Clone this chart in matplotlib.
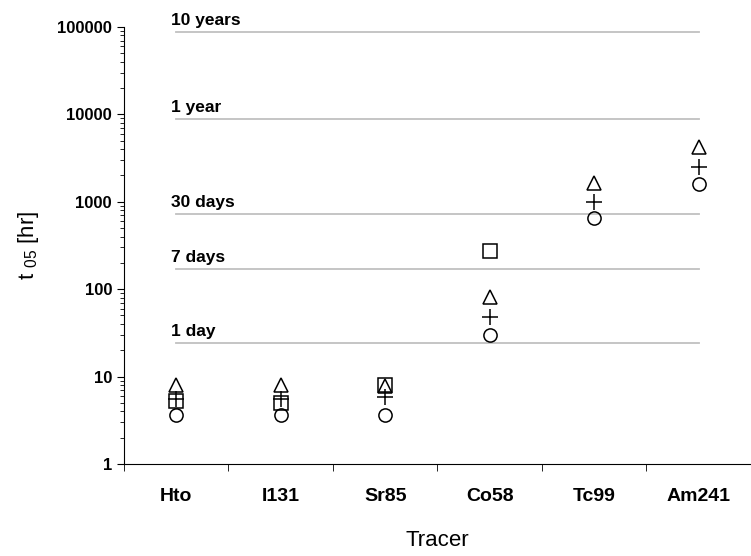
import numpy as np
import matplotlib.pyplot as plt

plt.rcParams['font.family'] = ['Liberation Sans', 'DejaVu Sans']
plt.rcParams['mathtext.fontset'] = 'custom'
plt.rcParams['mathtext.rm'] = 'Liberation Sans'

# data
tracers = ['Hto', 'I131', 'Sr85', 'Co58', 'Tc99', 'Am241']
t05_triangle = [8.0, 8.0, 7.8, 82, 1650, 4200]
t05_plus = [5.5, 5.5, 5.8, 48, 1000, 2500]
t05_square = [5.2, 5.0, 8.0, 270, np.nan, np.nan]
t05_circle = [3.6, 3.6, 3.6, 30, 660, 1600]

ref_hours = [24, 168, 720, 8760, 87600]
ref_labels = ['1 day', '7 days', '30 days', '1 year', '10 years']

fig = plt.figure(figsize=(7.51, 5.56), dpi=100)
ax = fig.add_axes([0.165, 0.1655, 0.835, 0.786])

x = np.arange(len(tracers))

# reference time lines
for h, lab in zip(ref_hours, ref_labels):
    ax.plot([x[0], x[-1]], [h, h], color='#c0c0c0', lw=1.3, zorder=1)
    ax.annotate(lab, xy=(x[0], h), xytext=(-4, 3), textcoords='offset points',
                ha='left', va='bottom', fontsize=12.5, fontweight='bold')

mk = dict(ls='none', mfc='none', mec='black', mew=1.1, zorder=3)
ax.plot(x, t05_square, marker='s', ms=9.5, **mk)
ax.plot(x, t05_triangle, marker='^', ms=10.5, **mk)
ax.plot(x, t05_circle, marker='o', ms=9.5, **mk)
ax.plot(x, t05_plus, marker='+', ms=12, ls='none', color='black', mew=1.1, zorder=4)

ax.set_yscale('log')
ax.set_ylim(1, 100000)
ax.set_xlim(-0.5, len(tracers) - 0.5)

ax.set_xticks(x)
ax.set_xticklabels(tracers, fontsize=14, fontweight='bold')
ax.set_xticks(np.arange(len(tracers) + 1) - 0.5, minor=True)
ax.tick_params(axis='x', which='major', length=0, pad=17)
ax.tick_params(axis='x', which='minor', length=5, direction='out')

ax.set_yticks([1, 10, 100, 1000, 10000, 100000])
ax.set_yticklabels(['1', '10', '100', '1000', '10000', '100000'], fontsize=12, fontweight='bold')
ax.tick_params(axis='y', which='major', length=5, direction='out')
ax.tick_params(axis='y', which='minor', length=3, direction='out')

ax.spines['top'].set_visible(False)
ax.spines['right'].set_visible(False)

ax.set_xlabel('Tracer', fontsize=16, labelpad=18)
ax.set_ylabel('t $_{\\mathrm{05}}$ [hr]', fontsize=16, labelpad=12)

fig.savefig('out.png', dpi=100)
